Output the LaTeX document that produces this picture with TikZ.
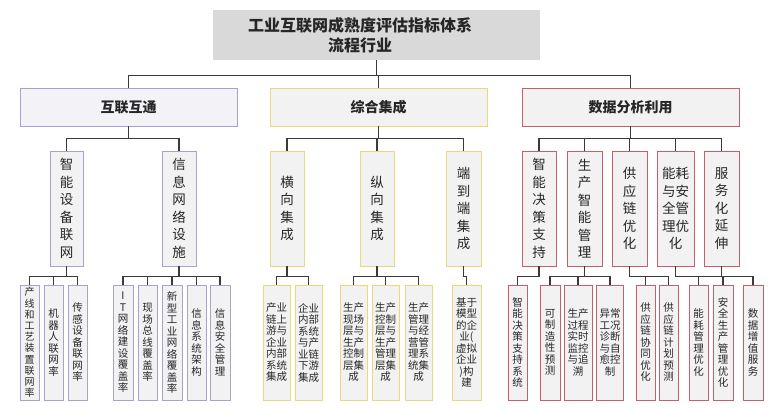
\documentclass[tikz,border=0pt]{standalone}
\usepackage{fontspec}
\newfontfamily\cjk{Noto Sans CJK SC}
\definecolor{titlefill}{HTML}{D9D9D9}
\definecolor{boxfill}{HTML}{F2F2F2}
\definecolor{lavfill}{HTML}{F2F2F7}
\definecolor{bluebd}{HTML}{A6A3D1}
\definecolor{yellowbd}{HTML}{E9D97A}
\definecolor{redbd}{HTML}{C5606B}
\definecolor{linec}{HTML}{3A3A3A}
\definecolor{txt}{HTML}{262626}
\tikzset{
 box/.style={draw, fill=boxfill, line width=0.9pt, inner sep=0pt, align=center, text=txt},
 titlebox/.style={fill=titlefill, minimum width=327pt, minimum height=50pt, inner sep=0pt},
 lone/.style={box, minimum width=217pt, minimum height=38pt, font=\cjk\bfseries\fontsize{14}{16}\selectfont},
 ltwo/.style={box, minimum height=115pt, font=\cjk\fontsize{13.5}{17.5}\selectfont},
 lthree/.style={box, minimum height=115pt, font=\cjk\fontsize{10.5}{11.5}\selectfont},
 bl/.style={draw=bluebd}, yl/.style={draw=yellowbd}, rd/.style={draw=redbd},
 conn/.style={draw=linec, line width=1.1pt},
}
\begin{document}
\begin{tikzpicture}[x=1pt,y=-1pt]
\fill[white] (0,0) rectangle (768,409);
\useasboundingbox (0,0) rectangle (768,409);
% title
\node[titlebox] (T) at (376.5,35) {};
\node[font=\cjk\bfseries\fontsize{16}{20}\selectfont, align=center, text=txt, inner sep=0pt] (Tt) at (360,35) {工业互联网成熟度评估指标体系\\流程行业};
% level 1
\node[lone,bl,fill=lavfill] (A) at (128.5,107) {互联互通};
\node[lone,yl] (B) at (378.5,107) {综合集成};
\node[lone,rd] (C) at (630.5,107) {数据分析利用};
% level 2
\node[ltwo,bl,minimum width=33pt] (A1) at (66.5,208.5) {智\\能\\设\\备\\联\\网};
\node[ltwo,bl,minimum width=34pt] (A2) at (179,208.5) {信\\息\\网\\络\\设\\施};
\node[ltwo,yl,minimum width=34pt] (B1) at (287,208.5) {横\\向\\集\\成};
\node[ltwo,yl,minimum width=34pt] (B2) at (377,208.5) {纵\\向\\集\\成};
\node[ltwo,yl,minimum width=35pt] (B3) at (463.5,208.5) {端\\到\\端\\集\\成};
\node[ltwo,rd,minimum width=34pt] (C1) at (539,208.5) {智\\能\\决\\策\\支\\持};
\node[ltwo,rd,minimum width=35pt] (C2) at (584.5,208.5) {生\\产\\智\\能\\管\\理};
\node[ltwo,rd,minimum width=35pt] (C3) at (629.5,208.5) {供\\应\\链\\优\\化};
\node[ltwo,rd,minimum width=37pt] (C4) at (675.5,208.5) {能耗\\与安\\全管\\理优\\化};
\node[ltwo,rd,minimum width=35pt] (C5) at (721.5,208.5) {服\\务\\化\\延\\伸};
% level 3 left
\node[lthree,bl,minimum width=19pt,font=\cjk\fontsize{10}{11.2}\selectfont] (A11) at (29.5,342.5) {产\\线\\和\\工\\艺\\装\\置\\联\\网\\率};
\node[lthree,bl,minimum width=19pt] (A12) at (53.5,342.5) {机\\器\\人\\联\\网\\率};
\node[lthree,bl,minimum width=19pt] (A13) at (77.5,342.5) {传\\感\\设\\备\\联\\网\\率};
\node[lthree,bl,minimum width=20pt] (A21) at (123,342.5) {I\\T\\网\\络\\建\\设\\覆\\盖\\率};
\node[lthree,bl,minimum width=19pt] (A22) at (147.5,342.5) {现\\场\\总\\线\\覆\\盖\\率};
\node[lthree,bl,minimum width=20pt] (A23) at (172,342.5) {新\\型\\工\\业\\网\\络\\覆\\盖\\率};
\node[lthree,bl,minimum width=19pt] (A24) at (196.5,342.5) {信\\息\\系\\统\\架\\构};
\node[lthree,bl,minimum width=20pt] (A25) at (220,342.5) {信\\息\\安\\全\\管\\理};
% level 3 middle
\node[lthree,yl,minimum width=27pt] (B11) at (276.5,342.5) {产业\\链上\\游与\\企业\\内部\\系统\\集成};
\node[lthree,yl,minimum width=27pt] (B12) at (308.5,342.5) {企业\\内部\\系统\\与产\\业链\\下游\\集成};
\node[lthree,yl,minimum width=27pt] (B21) at (353.5,342.5) {生产\\现场\\层与\\生产\\控制\\层集\\成};
\node[lthree,yl,minimum width=27pt] (B22) at (385.5,342.5) {生产\\控制\\层与\\生产\\管理\\层集\\成};
\node[lthree,yl,minimum width=27pt] (B23) at (418.5,342.5) {生产\\管理\\与经\\营管\\理系\\统集\\成};
\node[lthree,yl,minimum width=29pt] (B31) at (466.5,342.5) {基于\\模型\\的企\\业(\\虚拟\\企业\\)构\\建};
% level 3 right
\node[lthree,rd,minimum width=19pt] (C11) at (517.5,342.5) {智\\能\\决\\策\\支\\持\\系\\统};
\node[lthree,rd,minimum width=20pt] (C21) at (550,342.5) {可\\制\\造\\性\\预\\测};
\node[lthree,rd,minimum width=28pt] (C22) at (578,342.5) {生产\\过程\\实时\\监控\\与追\\溯};
\node[lthree,rd,minimum width=27pt] (C23) at (610,342.5) {异常\\工况\\诊断\\与自\\愈控\\制};
\node[lthree,rd,minimum width=19pt] (C31) at (645.5,342.5) {供\\应\\链\\协\\同\\优\\化};
\node[lthree,rd,minimum width=19pt] (C32) at (668.5,342.5) {供\\应\\链\\计\\划\\预\\测};
\node[lthree,rd,minimum width=19pt] (C41) at (698.5,342.5) {能\\耗\\管\\理\\优\\化};
\node[lthree,rd,minimum width=20pt] (C42) at (723,342.5) {安\\全\\生\\产\\管\\理\\优\\化};
\node[lthree,rd,minimum width=20pt] (C51) at (753,342.5) {数\\据\\增\\值\\服\\务};
% connectors
\foreach \c in {A,B,C} \draw[conn] (T.south) -- ++(0,15) -| (\c.north);
\foreach \p/\c in {A/A1,A/A2,B/B1,B/B2,B/B3,C/C1,C/C2,C/C3,C/C4,C/C5}
  \draw[conn] (\p.south) -- ++(0,12) -| (\c.north);
\foreach \p/\c in {A1/A11,A1/A12,A1/A13,A2/A21,A2/A22,A2/A23,A2/A24,A2/A25,
  B1/B11,B1/B12,B2/B21,B2/B22,B2/B23,B3/B31,
  C1/C11,C2/C21,C2/C22,C2/C23,C3/C31,C3/C32,C4/C41,C4/C42,C5/C51}
  \draw[conn] (\p.south) -- ++(0,10) -| (\c.north);
\end{tikzpicture}
\end{document}
